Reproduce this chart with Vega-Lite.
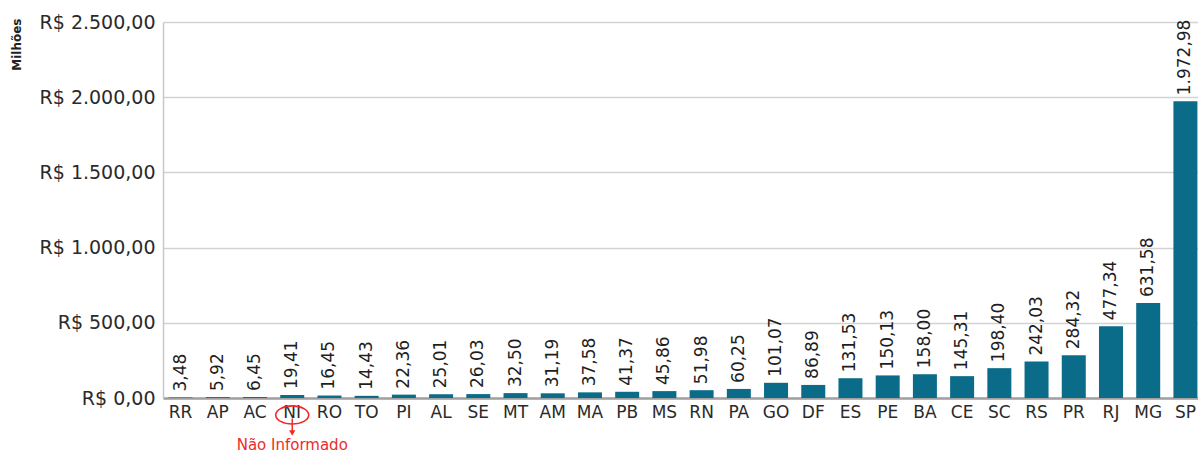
{
  "$schema": "https://vega.github.io/schema/vega-lite/v6.json",
  "autosize": "none",
  "width": 1040,
  "height": 376,
  "padding": {"left": 163, "top": 22, "right": -5, "bottom": 58},
  "background": "white",
  "config": {
    "locale": {"number": {"decimal": ",", "thousands": ".", "grouping": [3], "currency": ["R$ ", ""]}},
    "view": {"stroke": null},
    "font": "DejaVu Sans"
  },
  "datasets": {
    "uf": [
      {"uf": "RR", "valor": 3.48}, {"uf": "AP", "valor": 5.92}, {"uf": "AC", "valor": 6.45},
      {"uf": "NI", "valor": 19.41}, {"uf": "RO", "valor": 16.45}, {"uf": "TO", "valor": 14.43},
      {"uf": "PI", "valor": 22.36}, {"uf": "AL", "valor": 25.01}, {"uf": "SE", "valor": 26.03},
      {"uf": "MT", "valor": 32.50}, {"uf": "AM", "valor": 31.19}, {"uf": "MA", "valor": 37.58},
      {"uf": "PB", "valor": 41.37}, {"uf": "MS", "valor": 45.86}, {"uf": "RN", "valor": 51.98},
      {"uf": "PA", "valor": 60.25}, {"uf": "GO", "valor": 101.07}, {"uf": "DF", "valor": 86.89},
      {"uf": "ES", "valor": 131.53}, {"uf": "PE", "valor": 150.13}, {"uf": "BA", "valor": 158.00},
      {"uf": "CE", "valor": 145.31}, {"uf": "SC", "valor": 198.40}, {"uf": "RS", "valor": 242.03},
      {"uf": "PR", "valor": 284.32}, {"uf": "RJ", "valor": 477.34}, {"uf": "MG", "valor": 631.58},
      {"uf": "SP", "valor": 1972.98}
    ],
    "nota": [{"uf": "NI", "label": "Não Informado"}]
  },
  "encoding": {
    "x": {
      "field": "uf", "type": "nominal", "sort": null,
      "scale": {
        "domain": ["RR","AP","AC","NI","RO","TO","PI","AL","SE","MT","AM","MA","PB","MS","RN","PA","GO","DF","ES","PE","BA","CE","SC","RS","PR","RJ","MG","SP"],
        "paddingInner": 0.355, "paddingOuter": 0.15
      },
      "axis": {
        "title": null, "labelAngle": 0, "ticks": false, "labelPadding": 6,
        "labelFontSize": 17, "labelColor": "#2a2a2a", "labelFont": "DejaVu Sans",
        "domainColor": "#a0a0a0", "domainWidth": 2.5, "grid": false
      }
    }
  },
  "layer": [
    {
      "data": {"name": "uf"},
      "mark": {"type": "bar", "color": "#0b6c89"},
      "encoding": {
        "y": {
          "field": "valor", "type": "quantitative",
          "scale": {"domain": [0, 2500], "nice": false},
          "axis": {
            "values": [0, 500, 1000, 1500, 2000, 2500], "format": "$,.2f",
            "title": "Milhões", "titleFontSize": 12, "titleFontWeight": "bold", "titleColor": "#222",
            "titleAngle": -90, "titleAlign": "right", "titleBaseline": "middle",
            "titleX": -147, "titleY": -4,
            "ticks": false, "labelPadding": 8, "labelFontSize": 19, "labelColor": "#2a2a2a",
            "gridColor": "#d2d2d2", "gridWidth": 1.5, "domainColor": "#c8c8c8", "domainWidth": 1.5
          }
        }
      }
    },
    {
      "data": {"name": "uf"},
      "mark": {"type": "text", "angle": -90, "align": "left", "baseline": "middle", "dx": 6, "fontSize": 17, "color": "#1e1e1e"},
      "encoding": {
        "y": {"field": "valor", "type": "quantitative"},
        "text": {"field": "valor", "type": "quantitative", "format": ",.2f"}
      }
    },
    {
      "data": {"name": "nota"},
      "mark": {"type": "point", "shape": "M -1 0 A 1 0.55 0 1 0 1 0 A 1 0.55 0 1 0 -1 0 Z", "size": 1089, "filled": false, "stroke": "#ee2b2b", "strokeWidth": 1.6, "opacity": 1},
      "encoding": {"y": {"datum": -113}}
    },
    {
      "data": {"name": "nota"},
      "mark": {"type": "rule", "color": "#ee2b2b", "strokeWidth": 1.5},
      "encoding": {"y": {"datum": -136}, "y2": {"datum": -230}}
    },
    {
      "data": {"name": "nota"},
      "mark": {"type": "point", "shape": "triangle-down", "size": 40, "filled": true, "color": "#ee2b2b", "opacity": 1},
      "encoding": {"y": {"datum": -233}}
    },
    {
      "data": {"name": "nota"},
      "mark": {"type": "text", "fontSize": 15, "color": "#ee2b2b", "baseline": "middle"},
      "encoding": {"y": {"datum": -310}, "text": {"field": "label"}}
    }
  ]
}
